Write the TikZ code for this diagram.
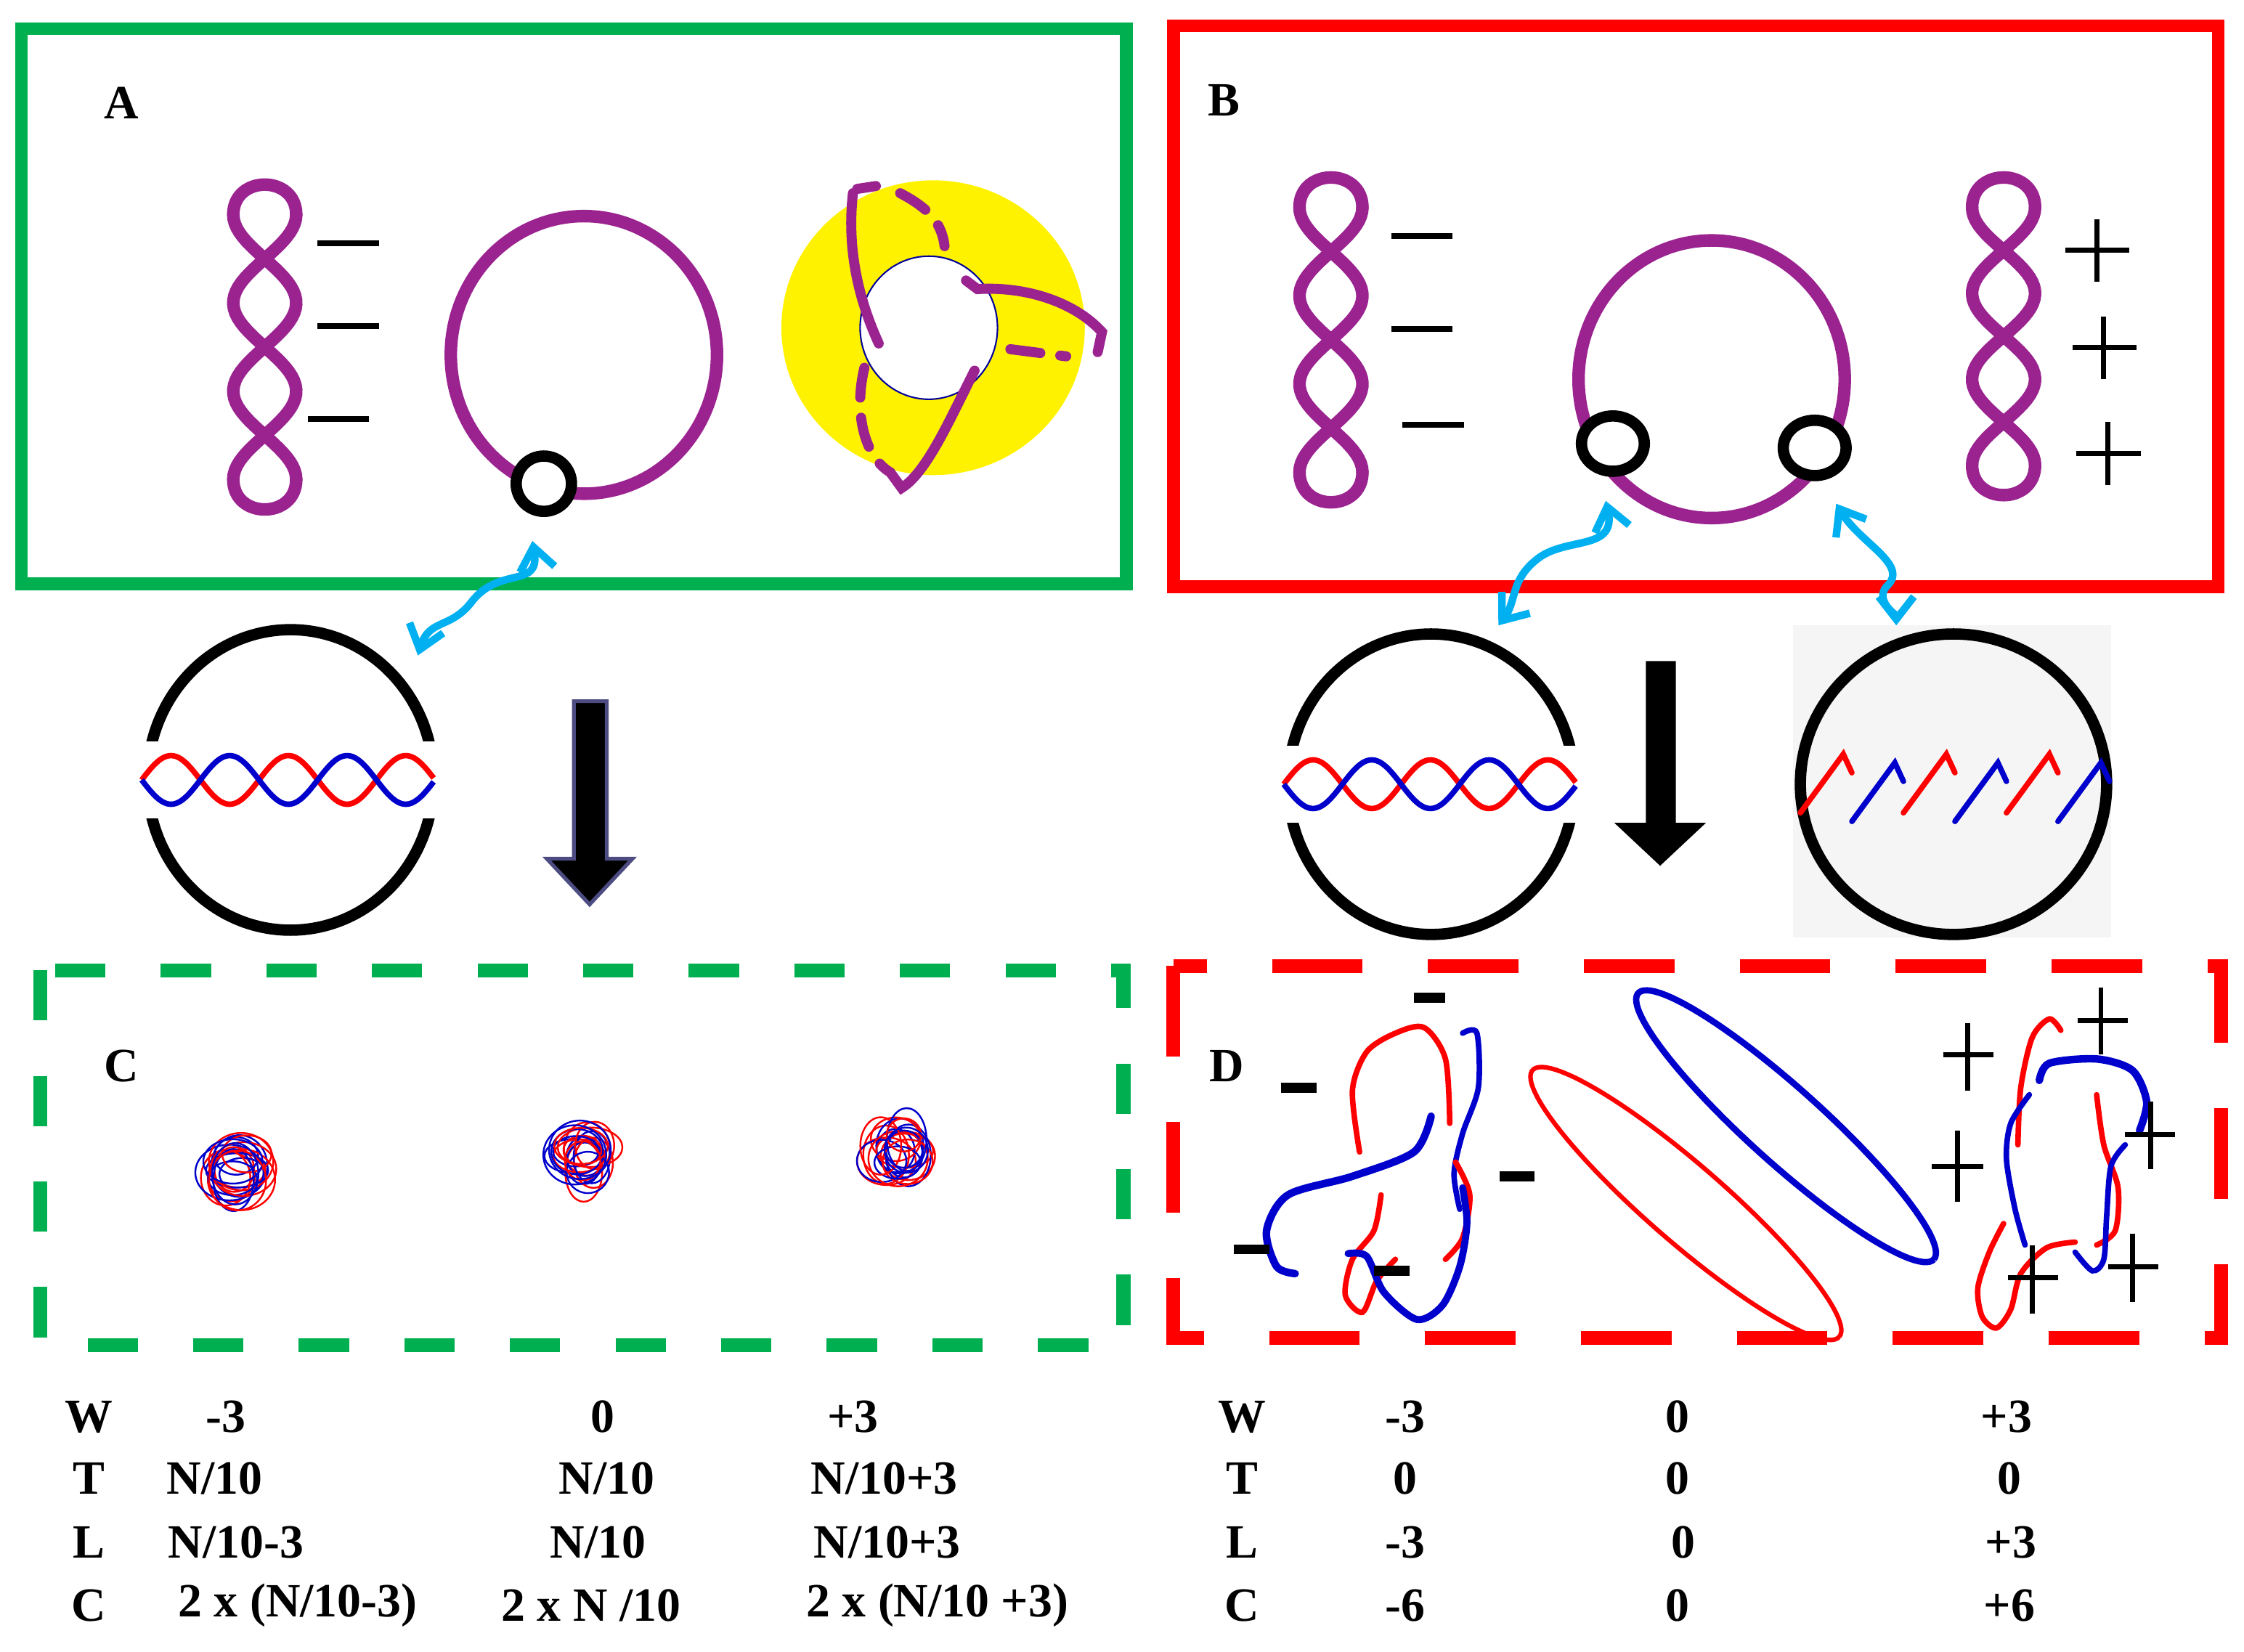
\documentclass[tikz,border=0pt]{standalone}
\usepackage{fontspec}
\setmainfont{Liberation Serif}
\usetikzlibrary{arrows.meta,shapes.geometric}
\definecolor{pur}{HTML}{9B2390}
\definecolor{gr}{HTML}{00B050}
\definecolor{cy}{HTML}{00B0F0}
\definecolor{rd}{HTML}{FF0000}
\definecolor{bl}{HTML}{0000CC}
\newcommand\plecto[3]{% cx top bottom
 \draw[pur,line width=5pt,line cap=round,variable=\t,domain=0:1,samples=60] plot ({#1+22*cos(\t*540)},{#2+\t*(#3-#2)});
 \draw[pur,line width=5pt,line cap=round,variable=\t,domain=0:1,samples=60] plot ({#1-22*cos(\t*540)},{#2+\t*(#3-#2)});
 \draw[pur,line width=5pt,line cap=round] (#1+22,#2) .. controls (#1+22,#2-28) and (#1-22,#2-28) .. (#1-22,#2);
 \draw[pur,line width=5pt,line cap=round] (#1+22,#3) .. controls (#1+22,#3+28) and (#1-22,#3+28) .. (#1-22,#3);}
\newcommand\helixband[3]{% x0 x1 yc
 \draw[rd,line width=2.2pt,variable=\x,domain=#1:#2,samples=120] plot (\x,{#3-17*sin((\x-#1)*4.39)});
 \draw[bl,line width=2.2pt,variable=\x,domain=#1:#2,samples=120] plot (\x,{#3+17*sin((\x-#1)*4.39)});}
\begin{document}
\begin{tikzpicture}[x=0.02cm,y=-0.02cm,
 lbl/.style={font=\bfseries\fontsize{19}{22}\selectfont,inner sep=0pt},
 cyarrow/.style={cy,line width=3pt,{Straight Barb[length=9pt,width=14pt]}-{Straight Barb[length=9pt,width=14pt]}},
 bigc/.style={draw=black,line width=4.5pt},
 smallc/.style={draw=black,line width=4.5pt,fill=white,ellipse,minimum width=22pt,minimum height=22pt,inner sep=0pt},
 minus/.style={line width=2.3pt},
 dminus/.style={line width=4pt},
 plus/.style={line width=2pt}]
\useasboundingbox (0,0) rectangle (1568,1154);
% Boxes
\draw[gr,line width=5pt] (15,20) rectangle (787,408);
\draw[rd,line width=5pt] (820,18) rectangle (1550,410);
\draw[gr,line width=5.5pt,dash pattern=on 20pt off 22pt] (28,678) rectangle (785,940);
\draw[rd,line width=5.5pt,dash pattern=on 36pt off 26pt] (820,675) rectangle (1552,935);
\node[lbl] (A) at (85,72) {A};
\node[lbl] (B) at (855,70) {B};
\node[lbl] (C) at (85,745) {C};
\node[lbl] (D) at (857,745) {D};
% Panel A
\plecto{185}{150}{335}
\draw[minus] (222,170)--(265,170) (222,228)--(265,228) (215,293)--(258,293);
\draw[pur,line width=5pt] (408,248) ellipse (93 and 97);
\node[smallc] (sa) at (380,338) {};
\fill[yellow] (652,229) ellipse (106 and 103);
\draw[fill=white,draw=blue!60!black,line width=0.6pt] (649,229) ellipse (48 and 50);
\begin{scope}[pur,line width=4pt,line cap=round]
\draw (596,135) .. controls (592,170) and (598,205) .. (614,240);
\draw (599,132)--(612,130);
\draw[dash pattern=on 12pt off 8pt] (629,135) .. controls (648,145) and (658,155) .. (660,172);
\draw (675,196) -- (683,202) .. controls (715,200) and (750,210) .. (770,232) -- (767,246);
\draw[dash pattern=on 12pt off 8pt] (706,244)--(745,249);
\draw (681,259) .. controls (665,290) and (648,330) .. (630,341) -- (622,330);
\draw[dash pattern=on 12pt off 8pt] (604,257) .. controls (596,290) and (605,320) .. (622,330);
\end{scope}
\draw[bigc] (203,545) ellipse (100 and 105);
\fill[white] (90,518) rectangle (310,572);
\helixband{99}{303}{545}
\coordinate (ca) at (292,458);
\coordinate (sa1) at (372,378);
\draw[cyarrow] (sa1) .. controls (378,412) and (350,395) .. (330,420) .. controls (315,440) and (300,432) .. (ca);
% down arrow A
\draw[fill=black,draw=blue!30!black!70,line width=1.5pt] (401,490)--(424,490)--(424,600)--(442,600)--(412,632)--(382,600)--(401,600)--cycle;
% Panel B
\plecto{930}{145}{330}
\draw[minus] (972,165)--(1015,165) (972,230)--(1015,230) (980,297)--(1023,297);
\draw[pur,line width=5pt] (1196,265) ellipse (93 and 97);
\node[smallc,minimum width=25pt] (sb1) at (1127,310) {};
\node[smallc,minimum width=25pt] (sb2) at (1268,313) {};
\plecto{1400}{145}{325}
\draw[plus] (1443,175)--(1488,175) (1465,153)--(1465,197);
\draw[plus] (1448,243)--(1493,243) (1470,221)--(1470,265);
\draw[plus] (1451,317)--(1496,317) (1473,295)--(1473,339);
\draw[bigc] (1000,548) ellipse (100 and 105);
\fill[white] (888,521) rectangle (1110,575);
\helixband{897}{1101}{548}
\fill[black] (1150,462)--(1171,462)--(1171,575)--(1192,575)--(1160,605)--(1128,575)--(1150,575)--cycle;
\fill[gray!8] (1253,437) rectangle (1475,655);
\draw[bigc] (1365,548) ellipse (107 and 105);
\foreach \i/\c in {0/rd,1/bl,2/rd,3/bl,4/rd,5/bl}{
 \draw[\c,line width=2.2pt,line cap=round] ({1258+\i*36},{568+mod(\i,2)*6})--({1288+\i*36},{527+mod(\i,2)*6})--({1294+\i*36},{540+mod(\i,2)*6});}
\coordinate (cb1) at (1122,350);
\coordinate (cb2) at (1047,437);
\coordinate (cb3) at (1283,352);
\coordinate (cb4) at (1325,437);
\draw[cyarrow] (cb1) .. controls (1130,385) and (1095,375) .. (1075,390) .. controls (1055,405) and (1060,420) .. (cb2);
\draw[cyarrow] (cb3) .. controls (1300,380) and (1335,395) .. (1318,410) .. controls (1310,420) and (1325,430) .. (cb4);
% Panel C tangles
\pgfmathsetseed{7}
\foreach \cx/\cy in {165/815,410/810,625/803}{
 \foreach \k in {1,...,9}{
  \pgfmathsetmacro\ox{rand*10}\pgfmathsetmacro\oy{rand*10}
  \pgfmathsetmacro\rx{12+rnd*12}\pgfmathsetmacro\ry{10+rnd*12}
  \draw[rd,line width=0.7pt] ({\cx+\ox},{\cy+\oy}) ellipse ({\rx} and {\ry});
  \pgfmathsetmacro\ox{rand*10}\pgfmathsetmacro\oy{rand*10}
  \pgfmathsetmacro\rx{12+rnd*12}\pgfmathsetmacro\ry{10+rnd*12}
  \draw[bl,line width=0.7pt] ({\cx+\ox},{\cy+\oy}) ellipse ({\rx} and {\ry});}}
% Panel D ellipses
\draw[rd,line width=1.8pt,variable=\t,domain=0:360,samples=100] plot ({1178+142*cos(\t)*cos(41)-27*sin(\t)*sin(41)},{841+142*cos(\t)*sin(41)+27*sin(\t)*cos(41)});
\draw[bl,line width=2.5pt,variable=\t,domain=0:360,samples=100] plot ({1248+139*cos(\t)*cos(42)-26*sin(\t)*sin(42)},{787+139*cos(\t)*sin(42)+26*sin(\t)*cos(42)});
% Panel D left tangle
\begin{scope}[line width=2.2pt,line cap=round]
\draw[rd] plot[smooth] coordinates {(1013,785) (1010,740) (995,718) (975,722) (955,735) (945,762) (950,805)};
\draw[bl,line width=3pt] plot[smooth] coordinates {(1000,780) (988,805) (945,822) (900,835) (885,860) (892,885) (905,890)};
\draw[bl] plot[smooth] coordinates {(1022,722) (1032,722) (1033,760) (1022,792) (1016,820) (1020,845)};
\draw[rd] plot[smooth] coordinates {(1017,812) (1027,835) (1022,865) (1010,880)};
\draw[rd] plot[smooth] coordinates {(965,835) (960,860) (945,880) (940,905) (952,917) (962,895) (975,880)};
\draw[bl,line width=2.8pt] plot[smooth] coordinates {(942,876) (955,878) (967,903) (990,922) (1008,912) (1020,885) (1025,855) (1022,830)};
\end{scope}
\draw[dminus] (895,760)--(920,760) (988,697)--(1010,697) (1048,822)--(1072,822) (862,873)--(887,873) (960,888)--(985,888);
% Panel D right tangle
\begin{scope}[line width=2.2pt,line cap=round]
\draw[rd] plot[smooth] coordinates {(1410,800) (1412,760) (1420,725) (1432,712) (1440,720)};
\draw[bl,line width=3pt] plot[smooth] coordinates {(1425,755) (1432,743) (1465,740) (1490,748) (1500,770) (1495,790)};
\draw[bl] plot[smooth] coordinates {(1418,765) (1405,785) (1402,810) (1408,845) (1415,870)};
\draw[rd] plot[smooth] coordinates {(1465,765) (1470,800) (1480,830) (1478,860) (1465,870)};
\draw[bl] plot[smooth] coordinates {(1485,800) (1475,815) (1472,850) (1470,880) (1462,888) (1450,875)};
\draw[rd] plot[smooth] coordinates {(1400,855) (1390,875) (1382,900) (1385,920) (1395,928) (1405,915) (1412,890) (1430,872) (1450,868)};
\end{scope}
\begin{scope}[line cap=butt]
\draw[plus] (1358,737)--(1393,737) (1375,715)--(1375,762);
\draw[plus] (1452,713)--(1487,713) (1468,690)--(1468,737);
\draw[plus] (1485,793)--(1520,793) (1503,770)--(1503,817);
\draw[plus] (1350,815)--(1386,815) (1368,790)--(1368,840);
\draw[plus] (1403,893)--(1438,893) (1420,870)--(1420,918);
\draw[plus] (1473,885)--(1508,885) (1490,862)--(1490,910);
\end{scope}
% Table
\foreach \y/\r in {990/W,1033/T,1078/L,1122/C}{
 \node[lbl] (l\r) at (62,\y) {\r};
 \node[lbl] (r\r) at (868,\y) {\r};}
\node[lbl] (aw1) at (158,990) {-3};
\node[lbl] (aw2) at (421,990) {0};
\node[lbl] (aw3) at (596,990) {+3};
\node[lbl] (at1) at (150,1033) {N/10};
\node[lbl] (at2) at (424,1033) {N/10};
\node[lbl] (at3) at (618,1033) {N/10+3};
\node[lbl] (al1) at (165,1078) {N/10-3};
\node[lbl] (al2) at (418,1078) {N/10};
\node[lbl] (al3) at (620,1078) {N/10+3};
\node[lbl] (ac1) at (208,1122) {2 x (N/10-3)};
\node[lbl] (ac2) at (413,1122) {2 x N /10};
\node[lbl] (ac3) at (655,1122) {2 x (N/10 +3)};
\node[lbl] (bw1) at (982,990) {-3};
\node[lbl] (bw2) at (1172,990) {0};
\node[lbl] (bw3) at (1402,990) {+3};
\node[lbl] (bt1) at (982,1033) {0};
\node[lbl] (bt2) at (1172,1033) {0};
\node[lbl] (bt3) at (1404,1033) {0};
\node[lbl] (bl1) at (982,1078) {-3};
\node[lbl] (bl2) at (1176,1078) {0};
\node[lbl] (bl3) at (1405,1078) {+3};
\node[lbl] (bc1) at (982,1122) {-6};
\node[lbl] (bc2) at (1172,1122) {0};
\node[lbl] (bc3) at (1404,1122) {+6};
\end{tikzpicture}
\end{document}
